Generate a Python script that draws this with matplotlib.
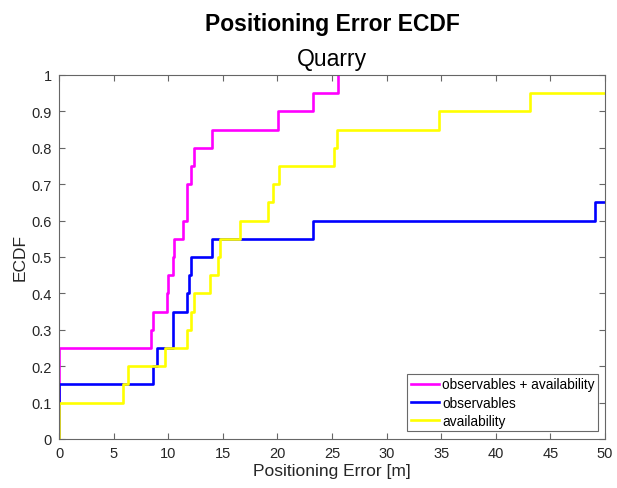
import numpy as np
import matplotlib
matplotlib.use("Agg")
import matplotlib.pyplot as plt

plt.rcParams['font.family'] = ['Liberation Sans', 'DejaVu Sans']

# Data (visible positioning errors in metres, 20 samples per series)
n_samples = 20
err_obs_avail = [0, 0, 0, 0, 0, 8.42, 8.57, 9.86, 10.01, 10.47, 10.56, 11.32,
                 11.70, 11.70, 12.07, 12.36, 14.04, 20.10, 23.30, 25.55]
err_obs = [0, 0, 0, 8.64, 8.94, 10.47, 10.47, 11.75, 11.93, 12.09, 14.04,
           23.30, 49.08]
err_avail = [0, 0, 5.89, 6.29, 9.71, 11.75, 12.09, 12.36, 13.83, 14.53, 14.72,
             16.58, 19.17, 19.57, 20.12, 25.18, 25.43, 34.77, 43.13]

series_labels = ['observables + availability', 'observables', 'availability']
series_colors = ['#FF00FF', '#0000FF', '#FFFF00']
x_ticks = list(range(0, 51, 5))
y_ticks = [0, 0.1, 0.2, 0.3, 0.4, 0.5, 0.6, 0.7, 0.8, 0.9, 1.0]
y_tick_labels = ['0', '0.1', '0.2', '0.3', '0.4', '0.5', '0.6', '0.7', '0.8', '0.9', '1']


def ecdf_stairs(errs, n, xmax=60):
    vals = np.sort(np.asarray(errs, dtype=float))
    uniq, counts = np.unique(vals, return_counts=True)
    cdf = np.cumsum(counts) / n
    xs = np.concatenate([[uniq[0]], uniq])
    ys = np.concatenate([[0.0], cdf])
    if cdf[-1] < 1:
        xs = np.append(xs, xmax)
        ys = np.append(ys, cdf[-1])
    return xs, ys


fig = plt.figure(figsize=(6.17, 4.89), dpi=100)
ax = fig.add_axes([59 / 617, 1 - 440 / 489, 546 / 617, 364 / 489])

for errs, lab, col in zip([err_obs_avail, err_obs, err_avail], series_labels, series_colors):
    xs, ys = ecdf_stairs(errs, n_samples)
    ax.step(xs, ys, where='post', color=col, lw=1.9, label=lab)

ax.set_xlim(0, 50)
ax.set_ylim(0, 1)
ax.set_xticks(x_ticks)
ax.set_yticks(y_ticks)
ax.set_yticklabels(y_tick_labels)

for sp in ax.spines.values():
    sp.set_color('#666666')
    sp.set_linewidth(0.8)
ax.tick_params(direction='in', length=4, width=0.8, color='#666666',
               labelcolor='#262626', labelsize=10.5, top=True, right=True, pad=5)

ax.set_xlabel('Positioning Error [m]', fontsize=12.5, color='#262626', labelpad=2)
ax.set_ylabel('ECDF', fontsize=12.5, color='#262626', labelpad=3)

cx = (59 + 605) / 2 / 617
fig.text(cx, 1 - 31 / 489, 'Positioning Error ECDF', ha='center', va='baseline',
         fontsize=16.5, fontweight='bold', color='black')
fig.text(cx, 1 - 66 / 489, 'Quarry', ha='center', va='baseline',
         fontsize=16.5, color='black')

leg = ax.legend(loc='lower right', bbox_to_anchor=(539 / 546, 8 / 364), borderaxespad=0,
                fontsize=9.8, frameon=True, fancybox=False, handlelength=2.1,
                handletextpad=0.2, labelspacing=0.3, borderpad=0.25)
leg.get_frame().set_edgecolor('#444444')
leg.get_frame().set_linewidth(0.8)

fig.savefig('out.png', dpi=100)
